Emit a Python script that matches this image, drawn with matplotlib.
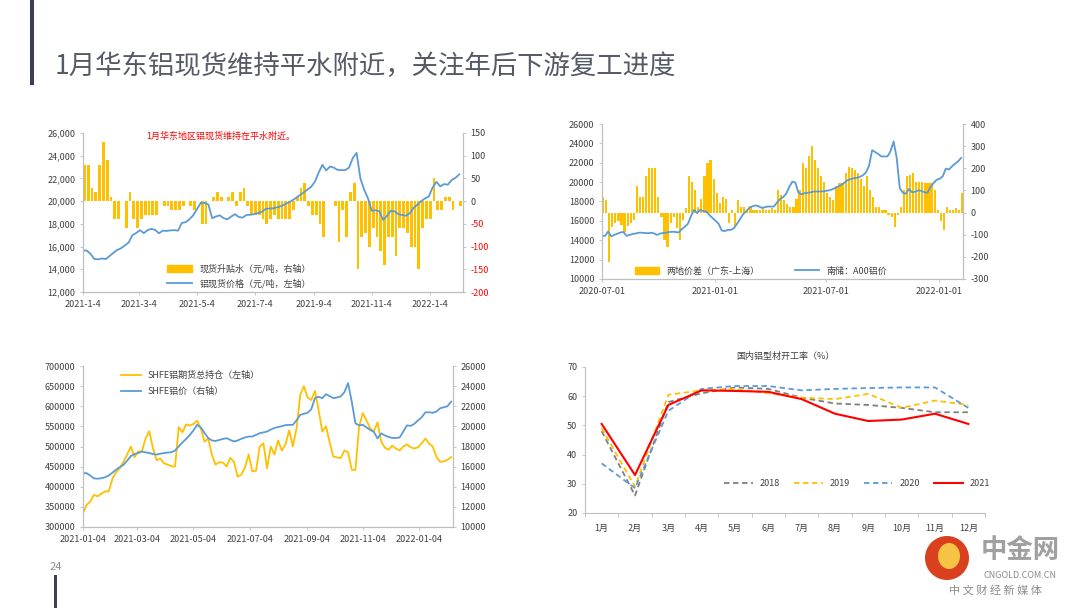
import matplotlib
matplotlib.use('Agg')
import matplotlib.pyplot as plt
from matplotlib.patches import Patch, Rectangle, Ellipse
from matplotlib.lines import Line2D
import pandas as pd

plt.rcParams['font.family'] = ['Noto Sans CJK SC', 'DejaVu Sans']
plt.rcParams['axes.unicode_minus'] = False

GOLD = '#FFC000'
BLUE = '#5B9BD5'
RED = '#FF0000'
GRAY = '#7F7F7F'
TXT = '#404040'
SPINE = '#BFBFBF'
FS = 6.5

# ---- 图1：华东现货升贴水 & 铝现货价格（4日间隔）----
spot_premium = [80, 80, 30, 20, 80, 130, 90, 10, -40, -40,
                0, -60, 20, -40, -60, -40, -30, -30, -30, -30,
                0, -10, -10, -20, -20, -20, -10, 0, -10, -20,
                0, -50, -50, 0, 10, 20, 10, 0, 10, 20,
                -10, 20, 30, -10, -30, -30, -30, -40, -50, -40,
                -30, -40, -40, -40, -40, -20, 10, 30, 40, -10,
                -30, -30, -50, -80, 0, 0, -10, -90, -20, -80,
                20, 40, -150, -80, -70, -100, -60, -80, -110, -140,
                -80, -80, -120, -60, -60, -70, -100, -100, -150, -60,
                -40, -40, 50, -20, -20, 10, 10, -20, 0, -10]
spot_price = [15650, 15650, 15350, 14900, 14880, 14950, 14900, 15170, 15450, 15700,
              15850, 16100, 16350, 17000, 17200, 17450, 17180, 17450, 17560, 17460,
              17170, 17400, 17380, 17420, 17450, 17400, 18080, 18150, 18400, 18750,
              19300, 19850, 19850, 19700, 18500, 18650, 18750, 18500, 18400, 18650,
              18850, 18600, 18550, 18780, 18800, 18850, 18950, 19050, 19300, 19360,
              19360, 19450, 19540, 19700, 19870, 20050, 20270, 20520, 20750, 21000,
              21250, 21700, 22500, 23200, 22700, 23050, 22950, 22750, 22730, 22730,
              22950, 23800, 24250, 22000, 21000, 20240, 19150, 19200, 19100, 18340,
              18700, 19150, 19100, 18850, 18780, 18720, 18930, 19400, 19700, 20000,
              20240, 20400, 21200, 21700, 21300, 21500, 21450, 21850, 22050, 22350]
ticks1 = ['2021-01-04', '2021-03-04', '2021-05-04', '2021-07-04', '2021-09-04', '2021-11-04', '2022-01-04']
ticklabels1 = ['2021-1-4', '2021-3-4', '2021-5-4', '2021-7-4', '2021-9-4', '2021-11-4', '2022-1-4']

# ---- 图2：两地价差 & 南储A00铝价（5日间隔）----
gd_sh_spread = [72, 57, -222, -63, -48, -40, -56, -86, -60, -48,
                -33, 118, 72, 72, 163, 200, 200, 200, 72, -18,
                -124, -154, -48, -18, -71, -124, -33, 20, 163, 140,
                100, 27, 60, 163, 223, 238, 150, 88, 42, 72,
                60, -48, 12, -63, 57, 27, 27, 12, 30, 12,
                12, 12, 20, 12, 12, 20, 12, 103, 80, 57,
                40, 27, 27, 60, 103, 223, 200, 254, 302, 238,
                200, 163, 140, 88, 70, 57, 118, 133, 133, 180,
                208, 200, 193, 178, 150, 118, 163, 100, 72, 27,
                27, 12, 12, -10, -18, -63, -10, 27, 103, 163,
                170, 178, 140, 140, 140, 133, 133, 133, 103, 12,
                -40, -78, 27, 12, 12, 20, 12, 88]
nanchu_a00 = [14450, 14450, 14900, 14400, 14550, 14680, 14800, 14850, 14450, 14550,
              14650, 14700, 14780, 14780, 14750, 14720, 14780, 14700, 14550, 14700,
              14750, 14790, 14850, 14880, 14850, 14800, 15150, 15400, 15700, 16500,
              17140, 16800, 17140, 17000, 16950, 16600, 16300, 16000, 15700, 15000,
              14950, 15070, 15070, 15250, 15700, 16200, 16700, 17000, 17350, 17500,
              17600, 17500, 17350, 17400, 17480, 17480, 17480, 17900, 18250, 18450,
              18800, 19500, 20050, 19950, 18900, 18750, 18860, 18900, 18950, 19030,
              19030, 19030, 19050, 19100, 19150, 19250, 19400, 19550, 19720, 19950,
              20200, 20300, 20400, 20450, 20550, 20700, 21000, 21700, 23300, 23100,
              22900, 22650, 22650, 22650, 23200, 24200, 22500, 19380, 18900, 18800,
              19300, 18950, 19000, 19150, 19100, 18950, 18900, 19500, 19900, 20240,
              20350, 20600, 21400, 21300, 21620, 21900, 22150, 22500]
ticks2 = ['2020-07-01', '2021-01-01', '2021-07-01', '2022-01-01']

# ---- 图3：SHFE铝期货总持仓 & SHFE铝价（4日间隔）----
shfe_oi = [334700, 355000, 363700, 380000, 376000, 383000, 388400, 388400, 420000, 436000,
           446000, 462000, 480000, 500000, 473000, 488000, 487600, 520000, 538000, 495900,
           466000, 470000, 458000, 455000, 451000, 450000, 548000, 535000, 555000, 552000,
           556000, 564000, 545000, 512000, 520000, 479300, 455000, 461000, 460000, 450000,
           472000, 462000, 425000, 430000, 448000, 480000, 438000, 440000, 500000, 508000,
           446000, 500000, 480000, 515000, 490000, 505000, 540000, 500000, 545000, 628000,
           650000, 622000, 615000, 638000, 590000, 537000, 550000, 510000, 475000, 473000,
           471000, 490000, 486000, 442000, 442000, 550000, 583000, 565000, 545000, 537000,
           560000, 512000, 497000, 492000, 502000, 495000, 490000, 500000, 505000, 498000,
           495000, 498000, 508000, 520000, 507000, 500000, 474000, 462000, 463000, 467000,
           473600]
shfe_price = [15350, 15350, 15100, 14830, 14800, 14850, 14940, 15120, 15400, 15700,
              15950, 16180, 16600, 17050, 17250, 17350, 17500, 17420, 17350, 17250,
              17200, 17280, 17350, 17400, 17430, 17600, 18000, 18400, 18750, 19140,
              19600, 20150, 19900, 19350, 18850, 18600, 18550, 18650, 18750, 18830,
              18650, 18500, 18600, 18760, 18900, 18990, 18990, 19150, 19320, 19400,
              19490, 19680, 19850, 19930, 20020, 20120, 20150, 20150, 20600, 21140,
              21250, 21350, 21700, 22800, 22950, 22800, 23200, 23000, 22800, 22880,
              22980, 23400, 24300, 22460, 20300, 20100, 20150, 19900, 19650, 19450,
              18800, 19300, 19100, 18950, 18850, 18850, 18890, 19490, 20100, 20050,
              20250, 20600, 20900, 21400, 21400, 21350, 21470, 21800, 21900, 22000,
              22460]
ticks3 = ['2021-01-04', '2021-03-04', '2021-05-04', '2021-07-04', '2021-09-04', '2021-11-04', '2022-01-04']

# ---- 图4：国内铝型材开工率 ----
months = ['1月', '2月', '3月', '4月', '5月', '6月', '7月', '8月', '9月', '10月', '11月', '12月']
rate_2018 = [48, 26, 58, 61, 63, 62.5, 59.5, 57.5, 57, 56, 54.5, 54.5]
rate_2019 = [49, 29, 60.5, 62, 62.5, 61, 59.5, 59, 60.8, 56, 58.5, 57]
rate_2020 = [37, 28.5, 55, 62.5, 63.5, 63.5, 62, 62.5, 62.8, 63, 63, 56]
rate_2021 = [50.5, 33, 57, 62, 61.8, 61.5, 59, 54, 51.5, 52, 54, 50.5]


def px(x, y, w, h):
    # 像素坐标 -> figure 比例
    return [x / 1080, 1 - (y + h) / 608, w / 1080, h / 608]


def style(ax, axr=None):
    for a in [ax] + ([axr] if axr is not None else []):
        a.spines['top'].set_visible(False)
        for s in ['left', 'right', 'bottom']:
            a.spines[s].set_color(SPINE)
            a.spines[s].set_linewidth(0.8)
        a.tick_params(labelsize=FS, colors=TXT, length=2, width=0.6)
        a.tick_params(axis='both', color=SPINE)
    if axr is None:
        ax.spines['right'].set_visible(False)


fig = plt.figure(figsize=(10.8, 6.08), dpi=100)
fig.patch.set_facecolor('white')

# 页面装饰
fig.add_artist(Rectangle((30 / 1080, 1 - 85 / 608), 4 / 1080, 85 / 608,
                         transform=fig.transFigure, color='#3B4055', lw=0))
fig.add_artist(Rectangle((54 / 1080, 0), 3 / 1080, 33 / 608,
                         transform=fig.transFigure, color='#3B4055', lw=0))
fig.text(55 / 1080, 1 - 66 / 608, '1月华东铝现货维持平水附近，关注年后下游复工进度',
         fontsize=19, color='#555A66', va='center', ha='left')
fig.text(50 / 1080, 1 - 567 / 608, '24', fontsize=8, color='#8C8C8C', va='center')

# ---------- 图1 ----------
d1 = pd.date_range('2021-01-04', periods=len(spot_premium), freq='4D')
ax1 = fig.add_axes(px(83, 133, 380, 159))
ax1b = ax1.twinx()
ax1b.bar(d1, spot_premium, width=3, align='edge', color=GOLD, lw=0)
ax1.plot(d1, spot_price, color=BLUE, lw=1.3)
ax1.set_zorder(ax1b.get_zorder() + 1)
ax1.patch.set_visible(False)
ax1.set_xlim(pd.Timestamp('2021-01-04'), pd.Timestamp('2022-02-08'))
ax1.set_ylim(12000, 26000)
ax1.set_yticks(range(12000, 26001, 2000))
ax1.set_yticklabels([f'{v:,}' for v in range(12000, 26001, 2000)])
ax1b.set_ylim(-200, 150)
r1 = list(range(-200, 151, 50))
ax1b.set_yticks(r1)
ax1b.set_yticklabels([str(v) for v in r1])
ax1.set_xticks(pd.to_datetime(ticks1))
ax1.set_xticklabels(ticklabels1)
style(ax1, ax1b)
for lab, v in zip(ax1b.get_yticklabels(), r1):
    lab.set_color(RED if v < 0 else TXT)
ax1.legend([Patch(color=GOLD), Line2D([], [], color=BLUE, lw=1.3)],
           ['现货升贴水（元/吨，右轴）', '铝现货价格（元/吨，左轴）'],
           loc='center left', bbox_to_anchor=(0.2, 0.1), frameon=False,
           fontsize=FS, handlelength=2.8, handleheight=0.8, labelspacing=0.6,
           labelcolor=TXT)
fig.text(146 / 1080, 1 - 136 / 608, '1月华东地区铝现货维持在平水附近。',
         fontsize=FS, color=RED, va='center')

# ---------- 图2 ----------
d2 = pd.date_range('2020-07-01', periods=len(gd_sh_spread), freq='5D')
ax2 = fig.add_axes(px(602, 124, 361, 155))
ax2b = ax2.twinx()
ax2b.bar(d2, gd_sh_spread, width=3.6, align='edge', color=GOLD, lw=0)
ax2.plot(d2, nanchu_a00, color=BLUE, lw=1.3)
ax2.set_zorder(ax2b.get_zorder() + 1)
ax2.patch.set_visible(False)
ax2.set_xlim(pd.Timestamp('2020-07-01'), pd.Timestamp('2022-02-09'))
ax2.set_ylim(10000, 26000)
ax2.set_yticks(range(10000, 26001, 2000))
ax2b.set_ylim(-300, 400)
ax2b.set_yticks(range(-300, 401, 100))
ax2.set_xticks(pd.to_datetime(ticks2))
ax2.set_xticklabels(ticks2)
style(ax2, ax2b)
ax2.legend([Patch(color=GOLD), Line2D([], [], color=BLUE, lw=1.3)],
           ['两地价差（广东-上海）', '南储：A00铝价'],
           loc='lower left', bbox_to_anchor=(0.07, -0.03), ncol=2, frameon=False,
           fontsize=FS, handlelength=2.6, handleheight=0.8, columnspacing=4,
           labelcolor=TXT)

# ---------- 图3 ----------
d3 = pd.date_range('2021-01-04', periods=len(shfe_oi), freq='4D')
ax3 = fig.add_axes(px(83, 366, 370, 161))
ax3b = ax3.twinx()
l1, = ax3.plot(d3, shfe_oi, color=GOLD, lw=1.3)
l2, = ax3b.plot(d3, shfe_price, color=BLUE, lw=1.3)
ax3.set_xlim(pd.Timestamp('2021-01-04'), pd.Timestamp('2022-02-10'))
ax3.set_ylim(300000, 700000)
ax3.set_yticks(range(300000, 700001, 50000))
ax3b.set_ylim(10000, 26000)
ax3b.set_yticks(range(10000, 26001, 2000))
ax3.set_xticks(pd.to_datetime(ticks3))
ax3.set_xticklabels(ticks3)
style(ax3, ax3b)
ax3b.legend([l1, l2], ['SHFE铝期货总持仓（左轴）', 'SHFE铝价（右轴）'],
            loc='upper left', bbox_to_anchor=(0.08, 1.02), frameon=False,
            fontsize=FS, handlelength=2.2, labelspacing=0.8, labelcolor=TXT)

# ---------- 图4 ----------
x4 = list(range(len(months)))
ax4 = fig.add_axes(px(585, 367, 400, 146))
ax4.plot(x4, rate_2018, color=GRAY, lw=1.3, ls=(0, (3, 2)), label='2018')
ax4.plot(x4, rate_2019, color=GOLD, lw=1.3, ls=(0, (3, 2)), label='2019')
ax4.plot(x4, rate_2020, color=BLUE, lw=1.3, ls=(0, (3, 2)), label='2020')
ax4.plot(x4, rate_2021, color=RED, lw=1.5, label='2021')
ax4.set_xlim(-0.5, len(months) - 0.5)
ax4.set_ylim(20, 70)
ax4.set_yticks(range(20, 71, 10))
ax4.set_xticks(x4)
ax4.set_xticklabels(months)
ax4.set_xticks([i - 0.5 for i in range(len(months) + 1)], minor=True)
style(ax4)
ax4.tick_params(axis='x', which='major', length=0, pad=8)
ax4.tick_params(axis='x', which='minor', length=3, color=SPINE)
ax4.set_title('国内铝型材开工率（%）', fontsize=FS, color=TXT, pad=6)
ax4.legend(loc='center', bbox_to_anchor=(0.68, 0.2), ncol=4, frameon=False,
           fontsize=FS, handlelength=3.2, columnspacing=1.5, labelcolor=TXT)

# 右下角水印
fig.add_artist(Ellipse((947 / 1080, 1 - 558 / 608), 44 / 1080, 44 / 608,
                       transform=fig.transFigure, color='#D9401E', lw=0))
fig.add_artist(Ellipse((949 / 1080, 1 - 556 / 608), 22 / 1080, 26 / 608,
                       transform=fig.transFigure, color='#F6C445', lw=0))
fig.text(1020 / 1080, 1 - 551 / 608, '中金网', fontsize=19, fontweight='bold',
         color='#A0A0A0', ha='center', va='center')
fig.text(1020 / 1080, 1 - 575 / 608, 'CNGOLD.COM.CN', fontsize=6.5,
         color='#8C8C8C', ha='center', va='center')
fig.text(995 / 1080, 1 - 590 / 608, '中 文 财 经 新 媒 体', fontsize=8,
         color='#8C8C8C', ha='center', va='center')

fig.savefig('out.png', dpi=100)
